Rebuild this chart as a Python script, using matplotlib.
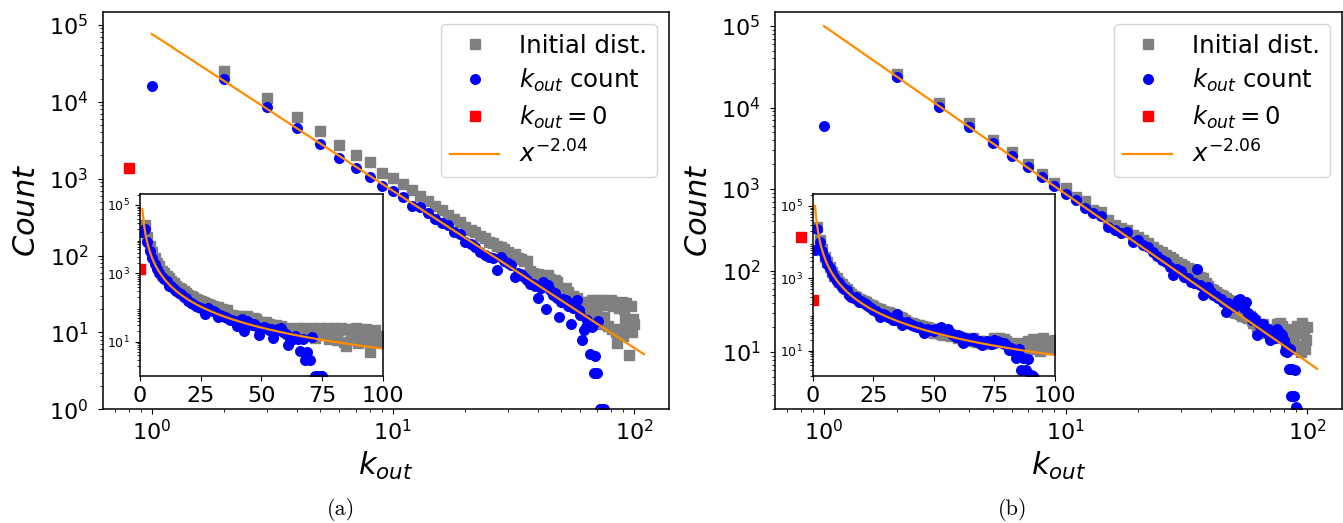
import matplotlib.pyplot as plt
import numpy as np

# out-degree counts, k = 2..100 for the initial distribution
k_init = np.arange(2, 101)
init_a = [25300, 11200, 6300, 4100, 2770, 2030, 1630, 1180, 1010,
          850, 715, 600, 515, 440, 385, 340, 300, 270, 235,
          215, 200, 180, 168, 152, 145, 132, 128, 120, 112,
          98, 104, 92, 90, 86, 84, 62, 60, 57, 58,
          55, 54, 52, 55, 49, 47, 48, 45, 38, 37,
          36, 38, 34, 30, 29, 30, 27, 28, 25, 22,
          25, 18, 24, 16, 25, 21, 26, 15, 24, 19,
          26, 13, 23, 26, 16, 24, 25, 12, 23, 26,
          11, 22, 25, 10, 7.3, 24, 21, 11, 25, 9,
          20, 15, 24, 11, 5.1, 12, 22, 10, 15, 13]
init_b = [25700, 11500, 6400, 3980, 2860, 2020, 1520, 1190, 1020,
          800, 710, 560, 520, 420, 365, 330, 310, 275, 255,
          235, 215, 195, 180, 168, 155, 145, 140, 128, 120,
          115, 108, 104, 98, 90, 84, 80, 70, 64, 60,
          58, 55, 52, 50, 48, 46, 44, 42, 33, 31,
          30, 32, 29, 28, 29, 27, 26, 28, 25, 23,
          24, 20, 22, 19, 21, 22, 18, 17, 19, 16,
          18, 15, 17, 16, 22, 20, 23, 18, 21, 19,
          15, 16, 13, 15, 12, 16, 14, 13, 19, 12,
          21, 11, 17, 10, 23, 12, 18, 11, 14, 20]

# k_out counts after the process
kout_a = [15900, 20000, 8500, 4500, 2820, 1870, 1370, 1040, 800, 697,
          582, 440, 431, 354, 296, 267, 249, 204, 191, 151,
          140, 128, 112, 101, 97, 92, 65, 97, 86, 80,
          75, 52, 60, 58, 53, 48, 43, 42, 40, 28,
          38, 45, 20, 41, 36, 31, 33, 28, 16, 25,
          27, 26, 22, 24, 13, 21, 23, 26, 19.6, 17,
          8, 10.7, 11.9, 14.6, 12, 5.3, 11.9, 3, 5, 3,
          14, 1, 1, 1, 1]
kout_b = [5930, 23500, 10200, 5700, 3630, 2530, 1870, 1410, 1100, 870,
          731, 578, 501, 464, 343, 313, 285, 298, 225, 236,
          205, 192, 169, 150, 134, 128, 110, 88, 105, 100,
          83, 80, 72, 70, 105, 66, 50, 58, 63, 55,
          50, 48, 46, 45, 41, 31, 40, 38, 37, 36,
          40, 43, 45, 38, 35, 41, 30, 28, 24.5, 27,
          25.7, 16, 22, 21, 20, 22, 18, 17, 19, 14,
          17, 18, 16, 15, 19.4, 18, 17, 16, 16, 14,
          10.4, 12, 10, 6.2, 11, 2.9, 6.2, 2.9, 6, 2.1,
          2.0]

# nodes with k_out = 0 (drawn left of k = 1 on the log axis)
zero_a = 1380
zero_b = 256

# power-law fits
coef_a, exp_a = 7.6e4, -2.04
coef_b, exp_b = 1.0e5, -2.06

panels = [
    dict(init=init_a, kout=kout_a, zero=zero_a, coef=coef_a, expo=exp_a,
         ylim=(1, 1.48e5), inset_ylim=(1, 2.05e5), tag='(a)'),
    dict(init=init_b, kout=kout_b, zero=zero_b, coef=coef_b, expo=exp_b,
         ylim=(1.98, 1.5e5), inset_ylim=(2.0, 2.1e5), tag='(b)'),
]

plt.rcParams['axes.linewidth'] = 1.1

fig = plt.figure(figsize=(13.43, 5.23), dpi=100)
main_pos = [[0.0767, 0.2174, 0.4213, 0.7602], [0.5771, 0.2174, 0.4221, 0.7602]]
inset_pos = [[0.1042, 0.2811, 0.1807, 0.3474], [0.6051, 0.2811, 0.1804, 0.3474]]
tag_x = [0.2536, 0.7543]

xfit = np.linspace(1, 110, 400)

for i, p in enumerate(panels):
    kb = np.arange(1, len(p['kout']) + 1)
    yfit = p['coef'] * xfit ** p['expo']

    ax = fig.add_axes(main_pos[i])
    ax.plot(k_init, p['init'], 's', color='gray', ms=6.5, label='Initial dist.')
    ax.plot(kb, p['kout'], 'o', color='blue', ms=6.9, label='$k_{out}$ count')
    ax.plot([0.8], [p['zero']], 's', color='red', ms=6.9, label='$k_{out}=0$')
    ax.plot(xfit, yfit, color='darkorange', lw=1.6,
            label='$x^{%.2f}$' % p['expo'])
    ax.set_xscale('log')
    ax.set_yscale('log')
    ax.set_xlim(0.627, 139.5)
    ax.set_ylim(*p['ylim'])
    ax.tick_params(axis='x', labelsize=16)
    ax.tick_params(axis='y', labelsize=16, pad=7)
    ax.set_xlabel('$k_{out}$', fontsize=22)
    ax.set_ylabel('$Count$', fontsize=22, labelpad=6)
    ax.legend(loc='upper right', fontsize=17.6, labelspacing=0.38)

    ins = fig.add_axes(inset_pos[i])
    ins.plot(k_init, p['init'], 's', color='gray', ms=6.5)
    ins.plot(kb, p['kout'], 'o', color='blue', ms=6.9)
    ins.plot([0], [p['zero']], 's', color='red', ms=6.9)
    ins.plot(xfit, yfit, color='darkorange', lw=1.6)
    ins.set_yscale('log')
    ins.set_xlim(0, 100)
    ins.set_ylim(*p['inset_ylim'])
    ins.set_xticks([0, 25, 50, 75, 100])
    ins.set_yticks([1e1, 1e3, 1e5])
    ins.tick_params(axis='x', labelsize=16)
    ins.tick_params(axis='y', labelsize=9)

    fig.text(tag_x[i], 0.004, p['tag'], family='cmr10', fontsize=16,
             ha='center', va='bottom')

fig.savefig('out.png', dpi=100)
